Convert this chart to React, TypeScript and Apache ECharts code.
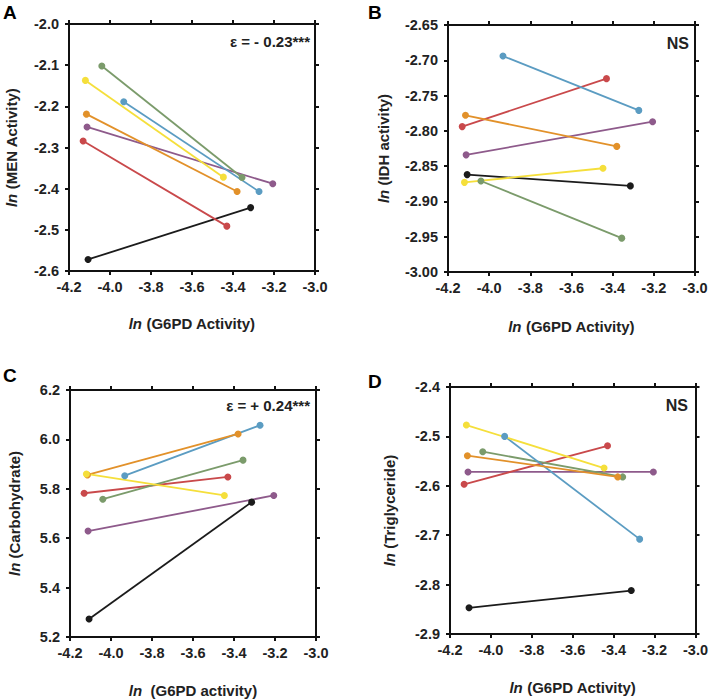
import React, { useEffect, useRef } from 'react';
import * as echarts from 'echarts';

// Seven lines (one per colour), each joining a low and a high G6PD activity point
const lineNames = ['Black', 'Purple', 'Red', 'Green', 'Blue', 'Orange', 'Yellow'];
const lineColors = ['#1b1b1b', '#8e5a8b', '#c9494b', '#7b9b6b', '#5b9cc2', '#e2912a', '#f5df3b'];

const g6pdLow = [-4.107, -4.112, -4.131, -4.04, -3.933, -4.115, -4.12];
const g6pdHigh = [-3.314, -3.206, -3.43, -3.356, -3.273, -3.38, -3.447];

const menLow = [-2.572, -2.25, -2.284, -2.102, -2.189, -2.219, -2.137];
const menHigh = [-2.446, -2.388, -2.491, -2.373, -2.407, -2.407, -2.372];

const idhLow = [-2.862, -2.834, -2.794, -2.871, -2.694, -2.778, -2.873];
const idhHigh = [-2.878, -2.787, -2.726, -2.952, -2.771, -2.822, -2.853];

const carbLow = [5.273, 5.629, 5.782, 5.758, 5.853, 5.856, 5.86];
const carbHigh = [5.746, 5.773, 5.848, 5.916, 6.057, 6.022, 5.773];

const trigLow = [-2.847, -2.572, -2.597, -2.531, -2.5, -2.539, -2.477];
const trigHigh = [-2.812, -2.572, -2.519, -2.582, -2.708, -2.582, -2.564];

const xMin = -4.2;
const xMax = -3.0;
const xStep = 0.2;

const panelLetters = ['A', 'B', 'C', 'D'];
const yTitles = ['(MEN Activity)', '(IDH activity)', '(Carbohydrate)', '(Triglyceride)'];
const xTitles = [' (G6PD Activity)', ' (G6PD Activity)', '  (G6PD activity)', ' (G6PD Activity)'];
const yMins = [-2.6, -3.0, 5.2, -2.9];
const yMaxs = [-2.0, -2.65, 6.2, -2.4];
const ySteps = [0.1, 0.05, 0.2, 0.1];
const yDecimals = [1, 2, 1, 1];
const notes = ['ε = - 0.23***', 'NS', 'ε = + 0.24***', 'NS'];
const lowValues = [menLow, idhLow, carbLow, trigLow];
const highValues = [menHigh, idhHigh, carbHigh, trigHigh];

// layout
const grids = [
  { left: 69, top: 24, width: 246, height: 247 },
  { left: 448, top: 25, width: 247, height: 247 },
  { left: 70, top: 390, width: 246, height: 247 },
  { left: 450, top: 387, width: 246, height: 247 },
];
const yNameGaps = [50, 57, 48, 53];
const xNameGaps = [45, 47, 46, 46];
const letterPos = [[3, 3], [368, 3], [3, 366], [368, 372]];
const notePos = [[310, 41], [689, 43], [310, 405], [688, 405]];
const noteSizes = [15, 16, 15, 16];

const FONT = 'Liberation Sans, Arial, Helvetica, sans-serif';
const TXT = '#222222';
const FRAME = '#111111';

export default function App() {
  const ref = useRef<HTMLDivElement>(null);

  useEffect(() => {
    if (!ref.current) return;
    const chart = echarts.init(ref.current, null, { renderer: 'svg' });

    const lineStyle = { color: FRAME, width: 2 };
    const xAxes: any[] = [];
    const yAxes: any[] = [];
    const series: any[] = [];
    const graphics: any[] = [];

    grids.forEach((g, p) => {
      const nameStyle = {
        fontSize: 15,
        fontWeight: 'bold',
        color: TXT,
        fontFamily: FONT,
        rich: {
          i: { fontSize: 15, fontWeight: 'bold', fontStyle: 'italic', color: TXT, fontFamily: FONT },
        },
      };
      // bottom x axis
      xAxes.push({
        type: 'value',
        gridIndex: p,
        position: 'bottom',
        min: xMin,
        max: xMax,
        interval: xStep,
        axisLine: { show: true, onZero: false, lineStyle },
        axisTick: { show: true, length: 4, lineStyle },
        splitLine: { show: false },
        axisLabel: {
          margin: 8,
          fontSize: 14.5,
          fontWeight: 'bold',
          color: TXT,
          fontFamily: FONT,
          formatter: (v: number) => v.toFixed(1),
        },
        name: '{i|ln}' + xTitles[p],
        nameLocation: 'middle',
        nameGap: xNameGaps[p],
        nameTextStyle: nameStyle,
      });
      // top mirror (frame + ticks)
      xAxes.push({
        type: 'value',
        gridIndex: p,
        position: 'top',
        min: xMin,
        max: xMax,
        interval: xStep,
        axisLine: { show: true, onZero: false, lineStyle },
        axisTick: { show: true, length: 4, lineStyle },
        splitLine: { show: false },
        axisLabel: { show: false },
      });
      // left y axis
      yAxes.push({
        type: 'value',
        gridIndex: p,
        position: 'left',
        min: yMins[p],
        max: yMaxs[p],
        interval: ySteps[p],
        axisLine: { show: true, onZero: false, lineStyle },
        axisTick: { show: true, length: 4, lineStyle },
        splitLine: { show: false },
        axisLabel: {
          margin: 10,
          fontSize: 14.5,
          fontWeight: 'bold',
          color: TXT,
          fontFamily: FONT,
          formatter: (v: number) => v.toFixed(yDecimals[p]),
        },
        name: '{i|ln} ' + yTitles[p],
        nameLocation: 'middle',
        nameGap: yNameGaps[p],
        nameRotate: 90,
        nameTextStyle: nameStyle,
      });
      // right mirror (frame + ticks)
      yAxes.push({
        type: 'value',
        gridIndex: p,
        position: 'right',
        min: yMins[p],
        max: yMaxs[p],
        interval: ySteps[p],
        axisLine: { show: true, onZero: false, lineStyle },
        axisTick: { show: true, length: 4, lineStyle },
        splitLine: { show: false },
        axisLabel: { show: false },
      });

      // invisible series bound to the mirror axes
      series.push({
        name: panelLetters[p] + '-mirror',
        type: 'scatter',
        xAxisIndex: p * 2 + 1,
        yAxisIndex: p * 2 + 1,
        data: lineNames.map((_, i) => [g6pdLow[i], lowValues[p][i]]),
        symbolSize: 0,
        itemStyle: { opacity: 0 },
        silent: true,
        z: 1,
      });

      lineNames.forEach((name, i) => {
        series.push({
          name: panelLetters[p] + '-' + name,
          type: 'line',
          xAxisIndex: p * 2,
          yAxisIndex: p * 2,
          data: [
            [g6pdLow[i], lowValues[p][i]],
            [g6pdHigh[i], highValues[p][i]],
          ],
          symbol: 'circle',
          symbolSize: 7,
          showSymbol: true,
          lineStyle: { color: lineColors[i], width: 1.8 },
          itemStyle: { color: lineColors[i] },
          emphasis: { disabled: true },
          z: 3,
        });
      });

      graphics.push({
        type: 'text',
        left: letterPos[p][0],
        top: letterPos[p][1],
        style: { text: panelLetters[p], font: `bold 19px ${FONT}`, fill: '#000' },
      });
      graphics.push({
        type: 'text',
        x: notePos[p][0],
        y: notePos[p][1],
        style: {
          text: notes[p],
          font: `bold ${noteSizes[p]}px ${FONT}`,
          fill: TXT,
          textAlign: 'right',
          textVerticalAlign: 'middle',
        },
      });
    });

    chart.setOption({
      animation: false,
      grid: grids.map((g) => ({ ...g, containLabel: false })),
      xAxis: xAxes,
      yAxis: yAxes,
      series,
      graphic: graphics,
    });

    return () => chart.dispose();
  }, []);

  return (
    <div
      ref={ref}
      style={{ position: 'fixed', left: 0, top: 0, width: 711, height: 700, background: '#fff' }}
    />
  );
}
